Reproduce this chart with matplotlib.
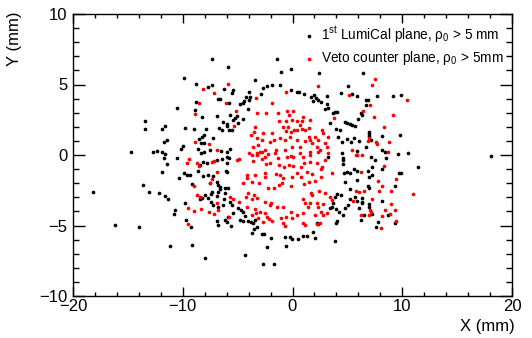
import matplotlib
matplotlib.use("Agg")
import matplotlib.pyplot as plt
from matplotlib.ticker import MultipleLocator

plt.rcParams['font.family'] = ['Liberation Sans', 'DejaVu Sans']
plt.rcParams['mathtext.fontset'] = 'custom'
plt.rcParams['mathtext.rm'] = 'Liberation Sans'
plt.rcParams['mathtext.it'] = 'Liberation Sans:italic'

# 1st LumiCal plane hits (x, y) in mm
lumi_x = [-18.2, -13.4, -13.4, -14.7, -13.6, -13.1, -16.2, -14.0,
    -7.36, -5.87, -9.85, -8.82, -7.7, -7.33, -6.24, -5.45, -5.51, -3.96, -4.26, -3.87, -3.99, -4.39, -4.51,
    -6.76, -6.58, -8.82, -5.76, -4.78, -4.02, -10.55, -8.85, -8.27, -6.85, -5.69, -5.24, -5.02, -5.39, -4.93,
    -4.54, -6.3, -5.99, -6.67, -5.93, -5.54, -5.81, -6.42, -11.6, -11.86, -9.76, -8.94, -7.88, -8.06, -8.27,
    -8.48, -8.33, -8.03, -7.21, -11.4, -11.7, -9.94, -10.18, -12.68, -12.31, -11.91, -11.6, -8.61, -8.33,
    -8.03, -7.51, -6.48, -5.99, -5.69, -5.93, -5.76, -11.7, -10.49,
    -1.44, -1.05, -0.14, 2.39, -3.42, -2.72, -2.35, -1.9, -1.11, -2.87, -0.17, 0.41, 0.59, 1.05, 1.66, 1.96,
    2.14, 2.35, 2.57, 1.84, 3.14, 5.03, 4.39, 3.11, 3.26, 3.66, 3.9, 4.08, 2.99, 3.42, 3.96, 4.33, 4.78, 4.94,
    4.17, 4.51, 4.94, 4.48, 4.63, 3.26,
    18.1, 6.42, 5.39, 5.9, 7.73, 9.12, 9.88, 6.69, 6.85, 6.66, 6.21, 6.3, 5.97, 5.24, 5.39, 5.69, 7.0, 7.0,
    6.97, 8.12, 9.79, 5.63, 5.33, 6.08, 7.12, 6.66, 8.12, 8.4, 5.9, 7.12, 7.51, 8.52, 9.58, 10.55, 7.21, 8.15,
    5.57, 5.9, 6.85, 11.4, 9.73, 9.85, 7.21, 7.0, 5.24, 5.85, 6.85, 6.94, 9.34, 5.24, 5.69, 6.3, 5.24, 5.85,
    6.3, 6.3, 8.18, 6.97, 7.0, 6.08, 7.21, 6.51, 8.67, 6.21, 9.36, 7.82, 7.63,
    -11.46, -11.89, -10.34, -9.85, -9.64, -9.34, -9.19, -8.43, -8.12, -7.82, -8.58, -8.18, -7.67, -7.21,
    -6.91, -6.45, -5.94, -6.06, -6.0, -6.91, -6.76, -6.6, -7.52, -6.15, -5.85, -12.13, -11.61, -11.31, -7.97,
    -8.27, -8.43, -6.76, -6.91, -7.45, -7.21, -6.76, -6.36, -6.24, -5.7, -5.54, -9.79, -10.67, -10.79, -4.94,
    -4.72, -4.54, -4.33, -4.78, -4.48, -4.02, -3.81, -3.63, -3.42, -3.27, -3.51, -3.72, -5.45, -5.85, -6.15,
    -6.0, -6.91, -6.76, -9.7, -9.28, -5.6, -11.16, -9.16, -7.94, -4.33, -7.3, -7.42, -7.67, -6.15, -6.6,
    4.57, 4.63, 4.94, 4.69, 4.78, 4.39, 4.08, 3.87, 3.66, 3.57, 3.42, 3.96, 4.27, 4.78, 5.09, 4.63, 4.08,
    3.96, 2.2, 2.35, 1.84, 2.05, 0.99, 1.29, 0.53, -0.23, -0.68, -0.59, -0.08, -1.93, -2.35, -2.59, -2.81,
    3.87, -2.66, -1.68]
lumi_y = [-2.65, 2.43, 1.87, 0.19, -2.13, -2.6, -4.99, -5.13,
    6.79, 6.22, 5.48, 5.06, 4.8, 4.94, 4.66, 4.63, 4.37, 4.49, 4.14, 4.14, 3.9, 3.83, 3.66,
    3.97, 3.95, 3.74, 3.66, 3.62, 3.29, 3.31, 3.21, 2.7, 2.74, 2.82, 2.6, 2.76, 2.48, 2.29,
    2.55, 2.31, 2.2, 1.89, 2.06, 1.77, 1.75, 1.77, 2.08, 1.87, 1.91, 1.87, 1.84, 1.4, 1.25,
    1.11, 0.87, 0.83, 1.18, 1.04, 0.92, 0.66, 0.43, 0.24, 0.31, 0.24, 0.05, 0.43, 0.17,
    0.19, 0.35, 0.31, -0.12, 0.43, 0.24, -0.24, -0.24, -0.24,
    6.81, 5.89, 6.08, 5.84, 5.32, 4.77, 4.89, 4.94, 4.96, 4.33, 4.59, 4.49, 4.49, 4.33, 4.14, 4.26,
    4.02, 3.9, 3.78, 3.83, 4.21, 4.92, 4.37, 3.59, 3.31, 3.0, 3.02, 3.05, 3.24, 2.25, 1.84, 1.77, 2.36, 2.25,
    1.3, 0.94, 1.11, 0.12, -0.24, -0.12,
    -0.1, 5.8, 4.35, 4.2, 4.18, 4.18, 4.23, 3.92, 3.9, 3.57, 3.0, 2.84, 2.58, 2.18, 2.13, 2.06, 1.61, 1.49,
    1.35, 1.35, 1.42, 1.21, 0.94, 0.97, 1.04, 0.59, 0.35, 0.19, 0.26, -0.14, -0.35, -0.19, 0.05, 0.12, -0.87, -0.97,
    -1.01, -1.13, -1.13, -0.87, -1.25, -1.25, -1.44, -1.58, -1.3, -1.77, -2.2, -2.36, -2.2, -2.43, -2.96, -3.03, -3.14, -3.24,
    -3.31, -3.43, -3.26, -3.5, -3.67, -3.78, -4.16, -4.24, -4.26, -4.63, -4.82, -4.75, -5.1,
    -0.64, -1.2, -1.65, -1.25, -1.42, -1.44, -2.08, -0.71, -0.47, -0.59, -1.11, -1.49, -1.42, -1.49,
    -0.35, -0.31, -0.59, -1.11, -1.18, -1.89, -2.13, -2.25, -2.01, -2.36, -2.36, -2.72, -2.91, -3.14, -2.84,
    -3.07, -3.14, -2.6, -2.91, -3.36, -3.55, -3.66, -3.55, -3.14, -3.31, -3.55, -3.38, -3.9, -4.21, -3.78,
    -3.9, -4.02, -4.33, -4.61, -4.66, -4.66, -4.73, -4.8, -4.61, -5.08, -5.27, -5.56, -4.14, -4.37, -4.61,
    -4.73, -4.68, -4.96, -4.61, -5.13, -5.03, -6.45, -6.41, -7.3, -7.12, -2.6, -2.79, -3.03, -2.72, -2.43,
    -0.35, -0.64, -1.18, -1.3, -1.89, -2.84, -2.77, -2.96, -3.43, -3.66, -3.78, -3.85, -4.02, -3.78, -3.55, -4.26, -4.66,
    -4.85, -4.85, -4.89, -5.44, -5.91, -5.74, -5.74, -5.98, -5.84, -5.84, -6.45, -5.98, -5.91, -6.5, -5.6, -5.6,
    -6.08, -7.73, -7.73]

# Veto counter plane hits (x, y) in mm
veto_x = [-5.9, -8.18, -7.12, -8.49, -6.06, -8.85, -5.15, -5.33, -8.91, -7.6, -6.85, -4.9, -3.99,
    2.35, -0.59, -3.35, -1.9, 5.17, 3.78,
    -3.26, -2.41, -1.29, -0.47, 0.02, -0.29, -1.2, -0.59, -0.08, 0.38, 0.84, 0.99, 0.68, 0.17, -0.14, -0.59,
    -0.38, 1.14, 1.6, 1.53, 0.44, 0.84, -0.83, -1.14, -1.9, -2.66, -3.41, -3.51, -3.81, -3.2, -2.81, -3.11,
    -3.63, -2.5, -2.96, -2.05, -1.68, -1.5, -0.68, -0.23, -0.68, 0.38, -0.08, 0.68, 1.14, 1.53, 1.6, 1.75,
    2.05, 2.35, 2.96, 3.11, 2.2, 2.51, 1.6, 0.99, 0.08, -0.53, -1.29, -2.5, -3.26, 3.26, 2.81, 2.66,
    -9.4, -9.64, -8.73, -8.49, -7.36, -7.15, -5.03, -6.91, -7.36, -7.52, -8.97, -4.18, -4.18, -4.48, -3.72,
    -8.73, -8.43, -5.7, -5.39, -4.84, -4.24, -4.09, -3.51, -9.49, -8.97, -8.37, -7.58, -7.15, -6.91, -6.76,
    -5.76, -4.18, -9.55,
    -3.72, -3.26, -2.81, -2.2, -1.59, -0.17, 0.68, 1.6, 2.35, 3.26,
    -3.57, -2.81, -2.41, -2.05, -1.2, -0.77, -0.29, 0.08, 0.74, 1.05, 1.6, 2.2, 2.66, 2.96,
    -3.38, -2.5, -2.5, -1.5, -1.14, -0.83, -0.08, 0.38, 0.74, 1.29, 1.75, 2.57, 3.57,
    -3.02, -2.2, -1.68, -1.2, -0.99, -0.17, 1.05, 1.53, 2.05, 2.57,
    -3.72, -3.26, -2.5, -2.05, -1.38, -0.83, -0.17, 0.93, 1.14, 1.66, 1.75, 2.44, 2.96, 3.42, 3.57,
    -3.42, -3.32, -2.96, -2.5, -2.35, -2.11, -1.9, -2.66, -3.11, -3.72,
    -1.08, -0.59, -0.08, -0.83, -0.68, 0.93, 1.14, 1.44, 2.2, 2.35, 2.57, 2.81, 3.11, 2.75, 2.05, 2.2, 2.51,
    0.99, 1.6, -1.99, 0.44,
    7.54, 7.27, 10.4, 7.06, 6.39, 7.39, 9.2, 8.36, 6.97, 6.9, 7.63, 7.67, 8.79, 8.7, 5.39, 5.75, 5.9, 6.36,
    8.3, 6.24, 9.43, 7.82, 8.18, 6.51, 5.78, 6.08, 7.9, 8.94, 10.95, 5.48, 7.27, 8.94, 7.06, 7.12, 8.4, 9.31,
    6.24, 7.0, 8.12, 8.88, 9.43, 8.03]
veto_y = [5.01, 4.68, 4.37, 3.66, 3.71, 2.91, 3.12, 2.06, 0.94, 0.76, 0.35, -0.28, 0.12,
    4.9, 4.49, 4.02, 3.71, 4.28, 2.6,
    2.95, 3.0, 3.0, 3.12, 3.12, 2.84, 2.41, 2.43, 2.48, 2.39, 2.41, 2.67, 2.13, 1.77, 1.66, 1.68,
    2.01, 1.77, 2.48, 1.89, 1.77, 1.84, 1.96, 1.18, 1.54, 1.58, 1.96, 1.65, 1.42, 1.18, 1.06, 0.71,
    0.59, 0.35, 0.24, 0.95, 1.06, 0.35, 1.06, 1.25, 0.35, 1.06, 0.54, 0.59, 1.02, 1.25, 1.06, 0.87,
    1.25, 1.06, 0.87, 0.59, 0.54, 0.35, 0.24, -0.12, -0.12, -0.12, -0.24, -0.12, 0.0, 1.3, 1.54, 1.77,
    -0.31, -0.59, -0.54, -0.78, -0.47, -0.4, -0.35, -1.18, -1.73, -2.01, -2.2, -1.42, -1.65, -2.01, -1.89,
    -2.84, -2.96, -2.96, -3.14, -3.31, -2.96, -2.72, -2.84, -3.78, -3.97, -3.85, -4.02, -4.18, -3.43, -3.9,
    -4.42, -3.66, -4.89,
    0.0, 0.12, 0.24, 0.07, 0.12, -0.07, 0.12, 0.0, 0.24, 0.12,
    -0.4, -0.31, -0.64, -0.54, -0.71, -0.83, -0.71, -0.78, -0.87, -0.54, -0.47, -0.59, -0.87, -0.35,
    -1.42, -1.25, -1.54, -1.35, -1.42, -1.65, -1.54, -1.3, -1.54, -1.18, -1.35, -0.97, -1.25,
    -1.96, -2.32, -2.32, -2.13, -2.01, -2.2, -2.06, -1.89, -1.82, -1.58,
    -3.14, -3.07, -3.31, -3.55, -3.71, -3.71, -4.02, -3.14, -3.43, -2.67, -2.84, -2.53, -2.72, -2.96, -3.19,
    -3.85, -4.14, -4.02, -4.14, -4.37, -4.56, -4.66, -4.73, -4.49, -4.26,
    -4.49, -4.37, -4.49, -4.85, -5.03, -4.8, -4.96, -3.66, -3.43, -3.66, -4.02, -4.26, -4.14, -3.48, -4.26, -4.89, -4.85,
    -4.14, -3.43, -3.43, -4.26,
    5.39, 4.96, 3.92, 3.52, 3.12, 2.72, 2.86, 1.96, 1.18, 0.99, 0.94, 0.8, 0.9, 0.23, 0.35, 0.02, -0.02, 0.02,
    -0.76, -1.23, -1.72, -1.82, -2.2, -2.53, -2.57, -2.65, -2.55, -2.55, -2.79, -3.28, -3.1, -3.48, -3.88, -4.02, -3.92, -3.88,
    -4.26, -4.26, -4.3, -4.16, -4.68, -5.2]

lumi_label = "1$^{\\mathrm{st}}$ LumiCal plane, ρ$_{\\mathrm{0}}$ > 5 mm"
veto_label = "Veto counter plane, ρ$_{\\mathrm{0}}$ > 5mm"

fig = plt.figure(figsize=(5.32, 3.38), dpi=100)
ax = fig.add_axes([73/532, 1-296/338, (512-73)/532, (296-14)/338])

ax.scatter(lumi_x, lumi_y, s=7, c='black', linewidths=0, label=lumi_label)
ax.scatter(veto_x, veto_y, s=7, c='#ff0000', linewidths=0, label=veto_label)

ax.set_xlim(-20, 20)
ax.set_ylim(-10, 10)
ax.xaxis.set_major_locator(MultipleLocator(10))
ax.xaxis.set_minor_locator(MultipleLocator(2))
ax.yaxis.set_major_locator(MultipleLocator(5))
ax.yaxis.set_minor_locator(MultipleLocator(1))
ax.tick_params(axis='both', which='both', direction='in', top=True, right=True, labelsize=12, width=1, colors='black')
ax.tick_params(axis='x', which='major', length=6.5, pad=2)
ax.tick_params(axis='x', which='minor', length=3)
ax.tick_params(axis='y', which='major', length=8.5, pad=4)
ax.tick_params(axis='y', which='minor', length=4.5)
for sp in ax.spines.values():
    sp.set_linewidth(1.0)

fig.text(515/532, 1-327/338, "X (mm)", ha='right', va='center', fontsize=12)
fig.text(15/532, 1-12/338, "Y (mm)", ha='center', va='top', rotation=90, fontsize=12)

leg = ax.legend(loc='upper left', bbox_to_anchor=(293/532, 1-15/338), bbox_transform=fig.transFigure,
                frameon=False, fontsize=9.8, handletextpad=0.35, handlelength=1.0, labelspacing=0.3,
                borderpad=0.2, scatterpoints=1, markerscale=1)

fig.savefig("out.png", dpi=100)
